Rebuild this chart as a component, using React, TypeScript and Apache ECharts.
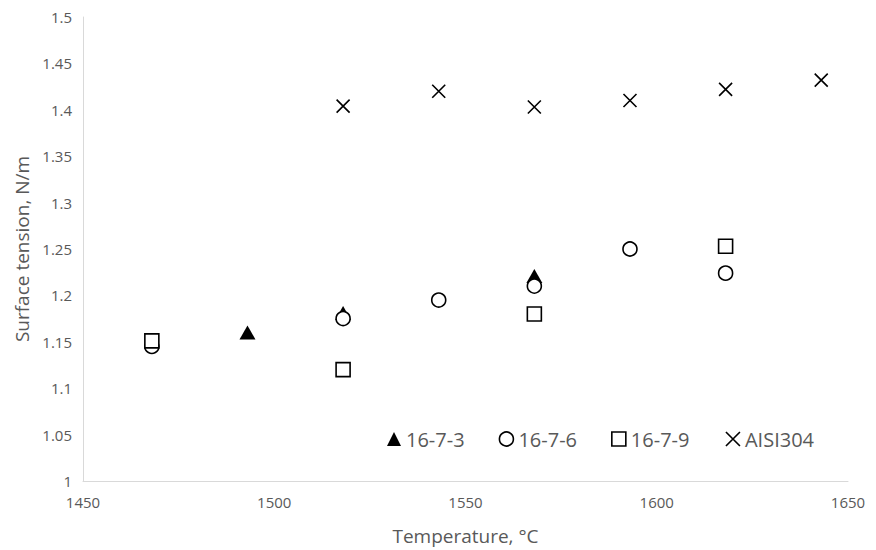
import React, { useEffect, useRef } from "react";
import * as echarts from "echarts";

const s1673: [number, number][] = [
  [1493, 1.16],
  [1518, 1.181],
  [1568, 1.221],
];
const s1676: [number, number][] = [
  [1468, 1.145],
  [1518, 1.175],
  [1543, 1.195],
  [1568, 1.21],
  [1593, 1.25],
  [1618, 1.224],
];
const s1679: [number, number][] = [
  [1468, 1.151],
  [1518, 1.12],
  [1568, 1.18],
  [1618, 1.253],
];
const sAISI: [number, number][] = [
  [1518, 1.404],
  [1543, 1.42],
  [1568, 1.403],
  [1593, 1.41],
  [1618, 1.422],
  [1643, 1.432],
];

const FONT = "'Open Sans', 'Noto Sans', sans-serif";
const GREY = "#595959";
const CROSS = "path://M0,0L10,10M10,0L0,10";

export default function App() {
  const ref = useRef<HTMLDivElement>(null);
  useEffect(() => {
    document.body.style.margin = "0";
    if (!ref.current) return;
    const chart = echarts.init(ref.current, undefined, { renderer: "svg" });
    chart.setOption({
      animation: false,
      backgroundColor: "#fff",
      grid: { left: 83, right: 28, top: 17, bottom: 69, containLabel: false },
      legend: {
        left: 382,
        top: 424,
        itemGap: 34,
        itemWidth: 14,
        itemHeight: 14,
        textStyle: { color: GREY, fontSize: 20, fontFamily: FONT },
        data: [
          { name: "16-7-3", icon: "triangle", itemStyle: { color: "#000", borderWidth: 0 } },
          { name: "16-7-6", icon: "circle", itemStyle: { color: "#fff", borderColor: "#000", borderWidth: 1.6 } },
          { name: "16-7-9", icon: "rect", itemStyle: { color: "#fff", borderColor: "#000", borderWidth: 1.6 } },
          { name: "AISI304", icon: CROSS, itemStyle: { color: "none", borderColor: "#000", borderWidth: 1.6 } },
        ],
      },
      xAxis: {
        type: "value",
        min: 1450,
        max: 1650,
        interval: 50,
        name: "Temperature, °C",
        nameLocation: "middle",
        nameGap: 45,
        nameTextStyle: { color: GREY, fontSize: 19, fontFamily: FONT },
        axisLine: { show: true, lineStyle: { color: "#d9d9d9", width: 1 } },
        axisTick: { show: false },
        splitLine: { show: false },
        axisLabel: {
          color: GREY,
          fontSize: 15,
          fontFamily: FONT,
          margin: 13,
          formatter: (v: number) => String(v),
        },
      },
      yAxis: {
        type: "value",
        min: 1,
        max: 1.5,
        interval: 0.05,
        name: "Surface tension, N/m",
        nameLocation: "middle",
        nameGap: 49,
        nameTextStyle: { color: GREY, fontSize: 19, fontFamily: FONT },
        axisLine: { show: true, lineStyle: { color: "#d9d9d9", width: 1 } },
        axisTick: { show: false },
        splitLine: { show: false },
        axisLabel: {
          color: GREY,
          fontSize: 15,
          fontFamily: FONT,
          margin: 11,
          formatter: (v: number) => String(Math.round(v * 100) / 100),
        },
      },
      series: [
        {
          name: "16-7-3",
          type: "scatter",
          data: s1673,
          symbol: "triangle",
          symbolSize: [16, 14],
          itemStyle: { color: "#000", opacity: 1 },
        },
        {
          name: "16-7-6",
          type: "scatter",
          data: s1676,
          symbol: "circle",
          symbolSize: 14,
          itemStyle: { color: "#fff", borderColor: "#000", borderWidth: 1.6, opacity: 1 },
        },
        {
          name: "16-7-9",
          type: "scatter",
          data: s1679,
          symbol: "rect",
          symbolSize: 14,
          itemStyle: { color: "#fff", borderColor: "#000", borderWidth: 1.6, opacity: 1 },
        },
        {
          name: "AISI304",
          type: "scatter",
          data: sAISI,
          symbol: CROSS,
          symbolSize: 13,
          itemStyle: { color: "none", borderColor: "#000", borderWidth: 1.6, opacity: 1 },
        },
      ],
    });
    return () => chart.dispose();
  }, []);
  return <div ref={ref} style={{ width: 876, height: 550 }} />;
}
